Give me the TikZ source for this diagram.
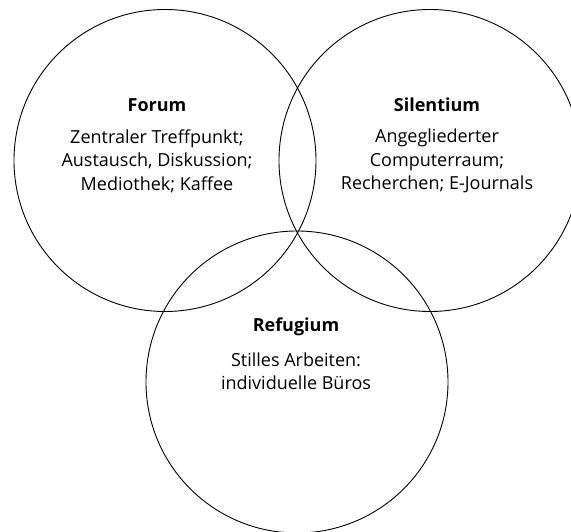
\documentclass[tikz,border=0pt]{standalone}
\usepackage{fontspec}
\setmainfont{Open Sans}
\usetikzlibrary{positioning}

\begin{document}
\begin{tikzpicture}[x=1pt,y=-1pt,
    bereich/.style={circle,draw,line width=0.9pt,minimum size=302pt,inner sep=0pt},
    titel/.style={font=\fontsize{18}{20}\selectfont\bfseries},
    inhalt/.style={align=center,font=\fontsize{18}{23.5}\selectfont}]
   \useasboundingbox (0,0) rectangle (571,532);
   \clip (0,0) rectangle (571,532);
   % die drei Bereiche
   \node[bereich] (forum)     at (165,160.5) {};
   \node[bereich] (silentium) at (430,160.5) {};
   \node[bereich] (refugium)  at (297,382)   {};
   % Beschriftungen
   \node[inhalt] (forum_t) at (157,161) {Zentraler Treffpunkt;\\Austausch, Diskussion;\\Mediothek; Kaffee};
   \node[titel]  (forum_h) at (157,105) {Forum};
   \node[inhalt] (silentium_t) at (437,161) {Angegliederter\\Computerraum;\\Recherchen; E-Journals};
   \node[titel]  (silentium_h) at (437,105) {Silentium};
   \node[inhalt] (refugium_t) at (296,371) {Stilles Arbeiten:\\individuelle Büros};
   \node[titel]  (refugium_h) at (296,327) {Refugium};
\end{tikzpicture}
\end{document}
